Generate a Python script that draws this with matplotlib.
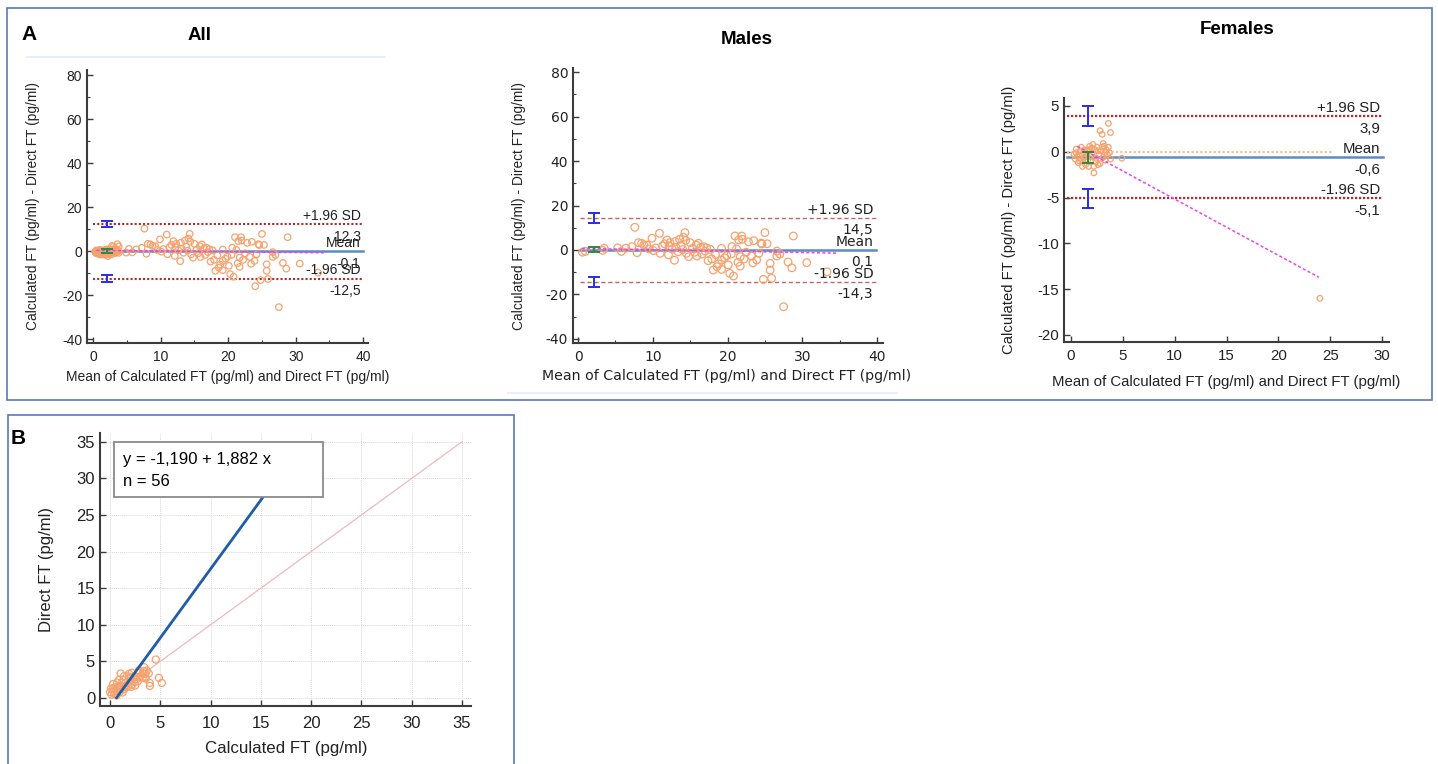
import numpy as np
import matplotlib
matplotlib.use("Agg")
import matplotlib.pyplot as plt
from matplotlib.patches import Rectangle
from matplotlib.lines import Line2D
from matplotlib.ticker import MultipleLocator

plt.rcParams['font.family'] = ['Liberation Sans', 'DejaVu Sans']
plt.rcParams['axes.unicode_minus'] = False

W, H = 1438, 764

# ---------------------------------------------------------------- data
# males: mean of the two methods vs difference (Calculated - Direct)
males_mean = [0.6, 1.0, 3.5, 3.3, 5.3, 5.8, 7.2, 7.6, 7.9, 8.1,
              8.5, 8.8, 9.2, 9.9, 10.1, 10.4, 10.9, 11.3, 11.6, 11.9,
              12.1, 12.3, 12.6, 12.9, 13.1, 13.4, 13.6, 13.8, 14.1, 14.3,
              14.5, 14.8, 15.0, 15.3, 15.6, 15.9, 16.1, 16.4, 16.8, 17.0,
              17.4, 17.7, 18.1, 18.4, 18.8, 19.2, 19.2, 19.2, 19.6, 20.1,
              20.3, 20.5, 20.8, 21.0, 21.2, 21.5, 21.7, 21.7, 21.9, 22.2,
              22.5, 22.8, 23.2, 23.5, 23.9, 24.2, 24.6, 24.8, 25.0, 25.3,
              25.7, 25.7, 25.9, 26.6, 26.6, 27.5, 28.1, 28.6, 28.8, 30.6,
              33.3, 9.5, 11.0, 13.0, 14.0, 15.8, 16.6, 17.9, 18.6, 19.9,
              20.6, 22.0, 23.4, 24.5, 12.2, 14.4, 6.4, 27.0, 17.2, 21.4]
males_diff = [-1.0, -0.6, 0.8, -0.2, 1.0, -0.6, 1.5, 10.2, -1.2, 3.3,
              3.0, 2.3, 2.2, 5.3, -0.3, 0.9, 7.5, 1.8, 2.8, 4.5,
              -2.2, 3.3, 0.4, -4.6, 1.2, -0.8, 4.8, 2.0, 5.7, 7.8,
              -1.5, -3.0, 3.3, 0.6, -1.0, -2.7, 3.0, 1.2, 1.5, -0.5,
              -4.8, 0.3, -9.0, -2.0, -6.2, 0.7, -8.7, -4.5, -3.5, -6.7,
              -10.5, -1.8, -11.7, 6.3, 0.5, 4.5, -7.2, -3.0, 6.3, -4.0,
              -1.0, 3.7, -2.7, 4.2, -4.5, -1.5, 2.7, -13.2, 7.8, 2.8,
              -9.0, -6.0, -12.7, -2.7, -0.5, -25.5, -5.4, -8.0, 6.3, -5.7,
              -9.8, 0.5, -1.5, 3.8, 0.2, 2.2, -1.8, -4.0, -7.5, -2.5,
              1.5, 4.8, -5.8, 3.1, 1.8, 4.3, 0.8, -1.8, 0.9, -5.5]

# females: mean vs difference (Calculated - Direct)
females_mean = [0.3, 0.4, 0.5, 0.6, 0.7, 0.8, 0.9, 1.0, 1.1, 1.1,
                1.2, 1.3, 1.4, 1.5, 1.5, 1.6, 1.7, 1.8, 1.8, 1.9,
                2.0, 2.0, 2.1, 2.2, 2.2, 2.3, 2.4, 2.5, 2.6, 2.7,
                2.8, 2.8, 2.9, 3.0, 3.0, 3.1, 3.2, 3.3, 3.4, 3.5,
                3.6, 3.6, 3.7, 3.8, 3.8, 4.9, 0.5, 1.0, 1.3, 2.6,
                3.3, 1.7, 2.4, 0.8, 3.1, 24.0]
females_diff = [-0.3, -0.8, -0.1, -0.5, -1.2, -0.4, 0.1, -0.9, -1.6, -0.3,
                -0.7, 0.2, -1.4, -0.2, 0.1, -0.9, -1.6, 0.6, -0.5, -1.1,
                0.4, -0.2, 0.8, -1.6, -2.3, 0.2, -0.7, 0.5, -1.4, -0.3,
                2.3, -1.3, 0.1, 1.9, 0.5, -0.6, 0.6, -0.9, 0.2, -0.3,
                3.1, 0.5, -0.1, 2.1, -0.8, -0.7, 0.3, 0.5, -0.6, 0.1,
                -0.1, 0.2, -1.1, -1.0, 0.9, -16.0]

# limits of agreement: +1.96 SD, mean, -1.96 SD  (value, CI half width)
all_limits = [12.3, -0.1, -12.5]
all_labels = ['12,3', '-0,1', '-12,5']
all_ci = [1.5, 1.0, 1.5]
all_reg_x, all_reg_y = [0.5, 34.5], [0.3, -0.8]

males_limits = [14.5, 0.1, -14.3]
males_labels = ['14,5', '0,1', '-14,3']
males_ci = [2.2, 1.2, 2.2]
males_reg_x, males_reg_y = [0.5, 34.6], [0.7, -1.4]

fem_limits = [3.9, -0.6, -5.1]
fem_labels = ['3,9', '-0,6', '-5,1']
fem_ci = [1.05, 0.6, 1.05]
fem_reg_x, fem_reg_y = [0.6, 23.9], [0.6, -13.7]

# panel B: regression of Direct on Calculated FT (females)
reg_intercept, reg_slope = -1.190, 1.882
reg_text = ['y = -1,190 + 1,882 x', 'n = 56']

ORANGE = '#F6A26E'
LIMIT_RED = '#B02A2A'
MEAN_BLUE = '#5B8CC6'
CI_BLUE = '#2B2BE8'
CI_GREEN = '#2E8B3A'
MAGENTA = '#F040F0'
SPINE = '#3C3C3C'
FRAME = '#5878C0'
TXT = '#222222'
WIDE = ['DejaVu Sans']          # the Males panel is horizontally stretched in the source


def px_axes(fig, left, top, right, bottom):
    return fig.add_axes([left / W, 1 - bottom / H, (right - left) / W, (bottom - top) / H])


def style_axes(ax, fs, family=None):
    for s in ['top', 'right']:
        ax.spines[s].set_visible(False)
    for s in ['left', 'bottom']:
        ax.spines[s].set_color(SPINE)
        ax.spines[s].set_linewidth(1.5)
    ax.tick_params(which='both', direction='in', color=SPINE, labelsize=fs,
                   labelcolor=TXT)
    ax.tick_params(which='major', length=4, width=1)
    ax.tick_params(which='minor', length=2.5, width=0.8)
    ax.tick_params(axis='y', pad=3.5)
    ax.tick_params(axis='x', pad=5)
    if family is not None:
        for lab in ax.get_xticklabels() + ax.get_yticklabels():
            lab.set_family(family)


def bland_altman(ax, mean, diff, limits, labels, ci, reg_x, reg_y,
                 xline, ci_x, fs, ms, limit_style, zero_line=None, family=None):
    x0, x1 = xline
    ax.scatter(mean, diff, s=ms, facecolors='none', edgecolors=ORANGE,
               linewidths=0.9, zorder=3)
    if zero_line is not None:
        ax.plot(zero_line, [0, 0], color='#F8C090', lw=1.6, ls=(0, (1, 1)), zorder=2)
    up, mid, lo = limits
    ls, lc, lw = limit_style
    ax.plot([x0, x1], [up, up], color=lc, lw=lw, ls=ls, zorder=2)
    ax.plot([x0, x1], [lo, lo], color=lc, lw=lw, ls=ls, zorder=2)
    ax.plot([x0, x1], [mid, mid], color=MEAN_BLUE, lw=1.8, zorder=2)
    ax.plot(reg_x, reg_y, color=MAGENTA, lw=1.1, ls=(0, (2, 1.5)), zorder=4)
    ax.errorbar([ci_x, ci_x], [up, lo], yerr=[ci[0], ci[2]], fmt='none',
                ecolor=CI_BLUE, elinewidth=1.4, capsize=4, capthick=1.4, zorder=5)
    ax.errorbar([ci_x], [mid], yerr=[ci[1]], fmt='none', ecolor=CI_GREEN,
                elinewidth=1.4, capsize=4, capthick=1.4, zorder=5)
    tx = x1 - 0.01 * (x1 - x0)
    kw = dict(ha='right', fontsize=fs, color=TXT, zorder=6, textcoords='offset points')
    if family is not None:
        kw['family'] = family
    for val, name, num in zip(limits, ['+1.96 SD', 'Mean', '-1.96 SD'], labels):
        ax.annotate(name, (tx, val), xytext=(0, 3), va='baseline', **kw)
        ax.annotate(num, (tx, val), xytext=(0, -4), va='top', **kw)


fig = plt.figure(figsize=(W / 100, H / 100), dpi=100)

# panel frames and faint separator lines from the source layout
fig.add_artist(Rectangle((7 / W, 1 - 400 / H), (1432 - 7) / W, (400 - 8) / H,
                         transform=fig.transFigure, fill=False, ec=FRAME, lw=1.2))
fig.add_artist(Rectangle((8 / W, 1 - 800 / H), (514 - 8) / W, (800 - 415) / H,
                         transform=fig.transFigure, fill=False, ec=FRAME, lw=1.2))
fig.add_artist(Line2D([27 / W, 385 / W], [1 - 57 / H, 1 - 57 / H],
                      transform=fig.transFigure, color='#E2EEF8', lw=1.2))
fig.add_artist(Line2D([508 / W, 897 / W], [1 - 393 / H, 1 - 393 / H],
                      transform=fig.transFigure, color='#E8F0F8', lw=1.5))

fig.text(29 / W, 1 - 34 / H, 'A', fontsize=15, fontweight='bold', ha='center', va='center')
fig.text(18.5 / W, 1 - 438 / H, 'B', fontsize=15, fontweight='bold', ha='center', va='center')
fig.text(200 / W, 1 - 35 / H, 'All', fontsize=13.5, fontweight='bold', ha='center', va='center')
fig.text(747 / W, 1 - 40 / H, 'Males', fontsize=13.5, fontweight='bold', ha='center', va='center')
fig.text(1237 / W, 1 - 29 / H, 'Females', fontsize=13.5, fontweight='bold', ha='center', va='center')

ba_xlabel = 'Mean of Calculated FT (pg/ml) and Direct FT (pg/ml)'
ba_ylabel = 'Calculated FT (pg/ml) - Direct FT (pg/ml)'

# ---- All
ax1 = px_axes(fig, 87, 70, 368, 343)
ax1.set_xlim(-0.9, 40.7)
ax1.set_ylim(-41.8, 82.3)
ax1.xaxis.set_major_locator(MultipleLocator(10))
ax1.xaxis.set_minor_locator(MultipleLocator(5))
ax1.yaxis.set_major_locator(MultipleLocator(20))
ax1.yaxis.set_minor_locator(MultipleLocator(10))
style_axes(ax1, 10)
bland_altman(ax1, males_mean + females_mean, males_diff + females_diff,
             all_limits, all_labels, all_ci, all_reg_x, all_reg_y,
             (0, 40), 2.0, 10, 22, ((0, (1, 1)), LIMIT_RED, 1.5))
ax1.set_xlabel(ba_xlabel, fontsize=10, color=TXT)
ax1.set_ylabel(ba_ylabel, fontsize=9.9, color=TXT)
ax1.xaxis.set_label_coords(0.5, -0.099)
ax1.yaxis.set_label_coords(-0.167, 0.5)

# ---- Males
ax2 = px_axes(fig, 573, 68, 883, 343)
ax2.set_xlim(-0.67, 40.8)
ax2.set_ylim(-41.8, 81.8)
ax2.xaxis.set_major_locator(MultipleLocator(10))
ax2.xaxis.set_minor_locator(MultipleLocator(5))
ax2.yaxis.set_major_locator(MultipleLocator(20))
ax2.yaxis.set_minor_locator(MultipleLocator(10))
style_axes(ax2, 10, family=WIDE)
bland_altman(ax2, males_mean, males_diff, males_limits, males_labels, males_ci,
             males_reg_x, males_reg_y, (0.3, 39.9), 2.1, 10, 30,
             ((0, (3, 2)), '#CC6060', 1.0), family=WIDE)
ax2.set_xlabel(ba_xlabel, fontsize=10.2, color=TXT, family=WIDE)
ax2.set_ylabel(ba_ylabel, fontsize=9.9, color=TXT)
ax2.xaxis.set_label_coords(0.496, -0.094)
ax2.yaxis.set_label_coords(-0.15, 0.5)

# ---- Females
ax3 = px_axes(fig, 1064, 98, 1389, 342)
ax3.set_xlim(-0.68, 30.67)
ax3.set_ylim(-20.77, 5.87)
ax3.xaxis.set_major_locator(MultipleLocator(5))
ax3.yaxis.set_major_locator(MultipleLocator(5))
style_axes(ax3, 10.8)
bland_altman(ax3, females_mean, females_diff, fem_limits, fem_labels, fem_ci,
             fem_reg_x, fem_reg_y, (-0.4, 30.1), 1.6, 10.8, 16,
             ((0, (1, 0.8)), LIMIT_RED, 1.6), zero_line=[-0.4, 25.3])
ax3.set_xlabel(ba_xlabel, fontsize=10.8, color=TXT)
ax3.set_ylabel(ba_ylabel, fontsize=10.7, color=TXT)
ax3.xaxis.set_label_coords(0.5, -0.135)
ax3.yaxis.set_label_coords(-0.147, 0.5)

# ---- B: Direct vs Calculated FT (females)
fm = np.array(females_mean)
fd = np.array(females_diff)
calc = fm + fd / 2
direct = fm - fd / 2

ax4 = px_axes(fig, 100, 433, 471, 706)
ax4.set_xlim(-1.0, 35.9)
ax4.set_ylim(-1.1, 36.2)
ax4.xaxis.set_major_locator(MultipleLocator(5))
ax4.yaxis.set_major_locator(MultipleLocator(5))
style_axes(ax4, 12)
ax4.tick_params(axis='x', pad=7)
ax4.grid(True, color='#D9D9D9', lw=0.7, ls=(0, (1, 1)))
ax4.set_axisbelow(True)
ax4.plot([0, 35], [0, 35], color='#F2B8B8', lw=0.9, zorder=2)
ax4.scatter(calc, direct, s=26, facecolors='none', edgecolors=ORANGE,
            linewidths=0.9, zorder=3)
xr = np.array([0.65, calc.max()])
ax4.plot(xr, reg_intercept + reg_slope * xr, color='#1F5DA6', lw=2.0, zorder=4)
ax4.add_patch(Rectangle((0.4, 27.4), 20.8, 7.6, facecolor='white',
                        edgecolor='#8A8A8A', lw=1.3, zorder=6))
ax4.text(1.3, 32.6, reg_text[0], fontsize=12, va='center', ha='left', zorder=7)
ax4.text(1.3, 29.6, reg_text[1], fontsize=12, va='center', ha='left', zorder=7)
ax4.set_xlabel('Calculated FT (pg/ml)', fontsize=12.2, color=TXT)
ax4.set_ylabel('Direct FT (pg/ml)', fontsize=12, color=TXT)
ax4.xaxis.set_label_coords(0.503, -0.128)
ax4.yaxis.set_label_coords(-0.124, 0.5)

fig.savefig('out.png', dpi=100)
